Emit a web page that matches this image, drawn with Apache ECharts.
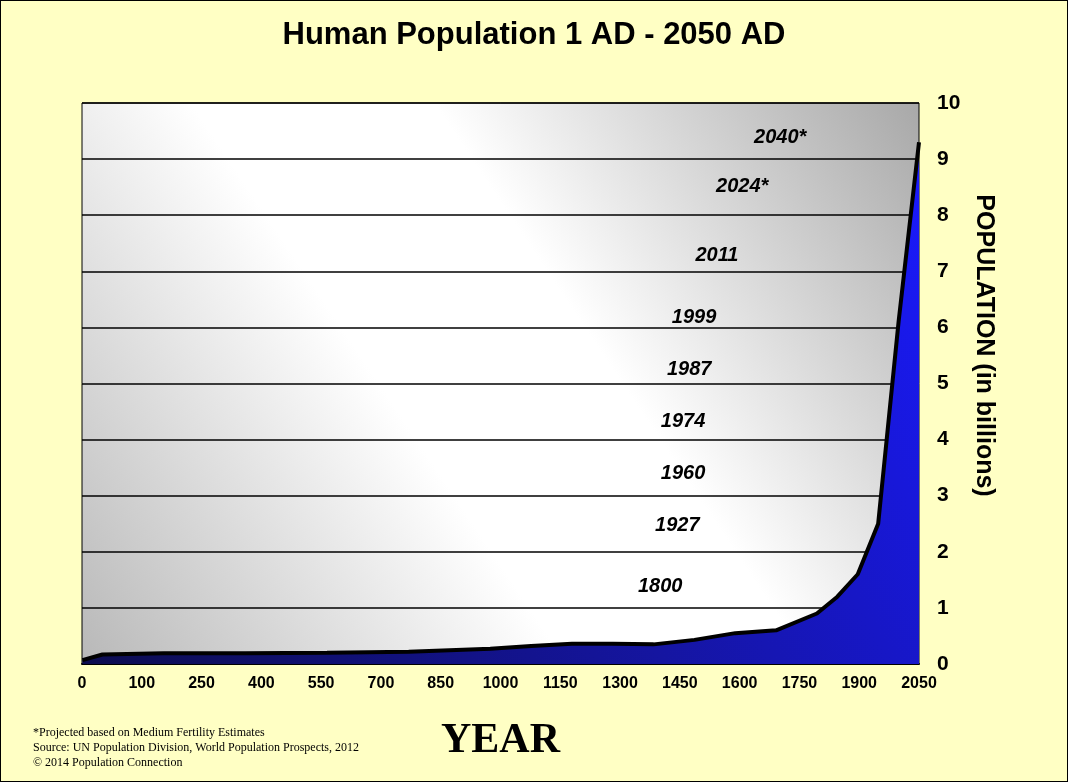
<!DOCTYPE html>
<html>
<head>
<meta charset="utf-8">
<script src="https://cdn.jsdelivr.net/npm/echarts@6/dist/echarts.min.js"></script>
<style>
html,body{margin:0;padding:0;background:#ffffc4;}
#main{width:1066px;height:780px;border:1px solid #000;}
</style>
</head>
<body>
<div id="main"></div>
<script>
// population data (year, billions)
var years = [1, 50, 200, 400, 600, 800, 1000, 1100, 1200, 1300, 1400, 1500, 1600, 1700, 1800, 1850, 1900, 1950, 2000, 2050];
var pop = [0.07, 0.17, 0.19, 0.19, 0.2, 0.22, 0.27, 0.32, 0.36, 0.36, 0.35, 0.43, 0.55, 0.6, 0.9, 1.2, 1.6, 2.5, 6.1, 9.3];
// tick labels on the year axis (evenly spaced)
var yearLabels = ['0', '100', '250', '400', '550', '700', '850', '1000', '1150', '1300', '1450', '1600', '1750', '1900', '2050'];
// milestone annotations: label, x (year position), y (billions)
var mileNames = ['1800', '1927', '1960', '1974', '1987', '1999', '2011', '2024*', '2040*'];
var mileX = [1416, 1458, 1472, 1472, 1487, 1499, 1555, 1617, 1710];
var mileY = [1.39, 2.47, 3.4, 4.32, 5.25, 6.17, 7.28, 8.52, 9.39];

var tickPos = [];
for (var i = 0; i < yearLabels.length; i++) tickPos.push(i * 2050 / 14);

var seriesData = [];
for (var i = 0; i < years.length; i++) seriesData.push([years[i], pop[i]]);

var marks = [];
for (var i = 0; i < mileNames.length; i++) {
    marks.push({ coord: [mileX[i], mileY[i]], value: mileNames[i] });
}

var myChart = echarts.init(document.getElementById('main'));
var option = {
    backgroundColor: '#ffffc4',
    title: {
        text: 'Human Population 1 AD - 2050 AD',
        left: 'center', top: 14,
        textStyle: { fontFamily: 'Liberation Sans', fontSize: 31, fontWeight: 'bold', color: '#000' }
    },
    grid: {
        left: 81, right: 148, top: 102, bottom: 117,
        show: true,
        borderColor: '#000', borderWidth: 1,
        backgroundColor: new echarts.graphic.LinearGradient(0, 1, 1, 0, [
            { offset: 0, color: '#b8b8b8' },
            { offset: 0.4, color: '#ffffff' },
            { offset: 0.6, color: '#ffffff' },
            { offset: 1, color: '#a8a8a8' }
        ])
    },
    xAxis: {
        type: 'value', min: 0, max: 2050,
        axisLine: { show: true, lineStyle: { color: '#000', width: 2 } },
        axisTick: { show: false },
        splitLine: { show: false },
        axisLabel: {
            customValues: tickPos,
            formatter: function (v) {
                var k = Math.round(v * 14 / 2050);
                return yearLabels[k];
            },
            color: '#000', fontFamily: 'Liberation Sans', fontWeight: 'bold', fontSize: 16, margin: 12
        },
        name: 'YEAR', nameLocation: 'middle', nameGap: 56,
        nameTextStyle: { fontFamily: 'Liberation Serif', fontWeight: 'bold', fontSize: 42, color: '#000' }
    },
    yAxis: {
        type: 'value', min: 0, max: 10, interval: 1, position: 'right',
        axisLine: { show: false },
        axisTick: { show: false },
        splitLine: { lineStyle: { color: '#000', width: 1.5 } },
        axisLabel: { color: '#000', fontFamily: 'Liberation Sans', fontWeight: 'bold', fontSize: 21, margin: 18 },
        name: 'POPULATION (in billions)', nameLocation: 'middle', nameGap: 50, nameRotate: -90,
        nameTextStyle: { fontFamily: 'Liberation Sans', fontWeight: 'bold', fontSize: 25, color: '#000', padding: [0, 76, 0, 0] }
    },
    series: [{
        type: 'line',
        data: seriesData,
        symbol: 'none',
        lineStyle: { color: '#000', width: 4 },
        areaStyle: {
            opacity: 1,
            color: new echarts.graphic.LinearGradient(1, 0, 0, 1, [
                { offset: 0, color: '#1a1aff' },
                { offset: 0.5, color: '#1515a0' },
                { offset: 1, color: '#0c0c50' }
            ])
        },
        markPoint: {
            symbol: 'circle', symbolSize: 0,
            label: {
                show: true, formatter: '{c}',
                color: '#000', fontFamily: 'Liberation Sans', fontStyle: 'italic', fontWeight: 'bold', fontSize: 20
            },
            data: marks
        }
    }],
    graphic: [{
        type: 'text', left: 32, top: 724,
        style: {
            text: '*Projected based on Medium Fertility Estimates\nSource: UN Population Division, World Population Prospects, 2012\n\u00a9 2014 Population Connection',
            font: '12px "Liberation Serif"', fill: '#000', lineHeight: 15
        }
    }]
};
myChart.setOption(option);
</script>
</body>
</html>
